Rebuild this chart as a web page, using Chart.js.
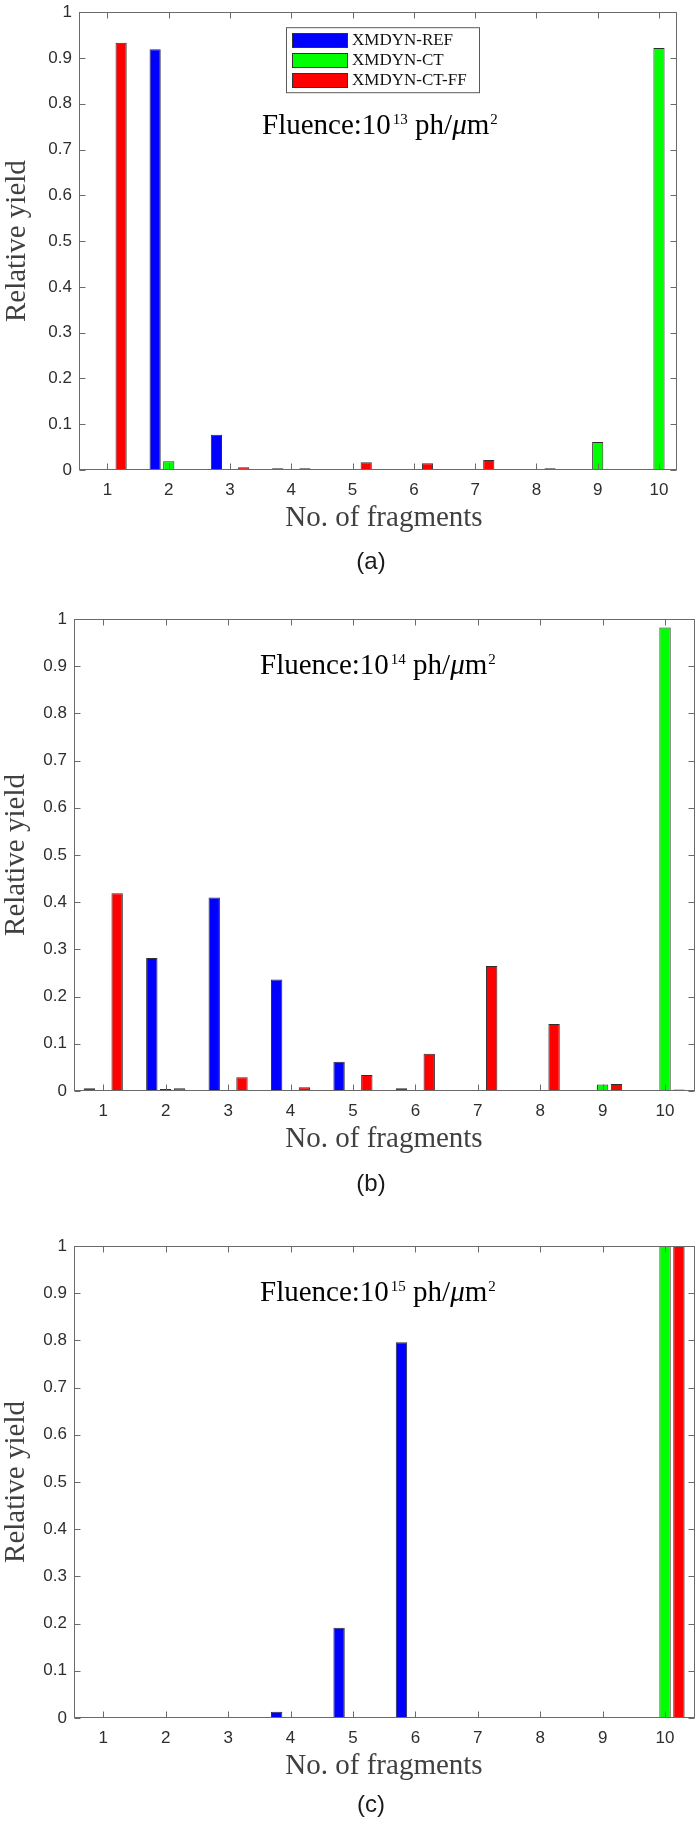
<!DOCTYPE html>
<html>
<head>
<meta charset="utf-8">
<script src="https://cdn.jsdelivr.net/npm/chart.js@4.4.1/dist/chart.umd.min.js"></script>
<style>
  html, body { margin: 0; padding: 0; background: #ffffff; }
  #page { position: relative; width: 696px; height: 1821px; overflow: hidden; background: #ffffff; }
  .panel { position: absolute; left: 0; width: 696px; }
  canvas { display: block; }
</style>
</head>
<body>
<div id="page">
  <div class="panel" id="pa"><canvas id="ca"></canvas></div>
  <div class="panel" id="pb"><canvas id="cb"></canvas></div>
  <div class="panel" id="pc"><canvas id="cc"></canvas></div>
</div>
<script>
// ---------------- data ----------------
const categories = [1, 2, 3, 4, 5, 6, 7, 8, 9, 10];
const xTickLabels = ['1', '2', '3', '4', '5', '6', '7', '8', '9', '10'];
const yTickValues = [0, 0.1, 0.2, 0.3, 0.4, 0.5, 0.6, 0.7, 0.8, 0.9, 1];
const yTickLabels = ['0', '0.1', '0.2', '0.3', '0.4', '0.5', '0.6', '0.7', '0.8', '0.9', '1'];
const seriesNames = ['XMDYN-REF', 'XMDYN-CT', 'XMDYN-CT-FF'];

// (a) fluence 10^13
const refA = [0.002, 0.919, 0.077, 0.004, 0, 0, 0, 0, 0, 0];
const ctA  = [0, 0.019, 0, 0, 0, 0, 0, 0, 0.061, 0.922];
const ffA  = [0.933, 0.002, 0.006, 0.004, 0.017, 0.015, 0.022, 0.004, 0, 0];
// (b) fluence 10^14
const refB = [0.006, 0.282, 0.410, 0.236, 0.062, 0.006, 0, 0, 0, 0];
const ctB  = [0, 0.004, 0, 0, 0, 0, 0, 0, 0.014, 0.982];
const ffB  = [0.419, 0.006, 0.029, 0.008, 0.034, 0.079, 0.265, 0.142, 0.015, 0.003];
// (c) fluence 10^15
const refC = [0, 0, 0, 0.013, 0.191, 0.796, 0, 0, 0, 0];
const ctC  = [0, 0, 0, 0, 0, 0, 0, 0, 0, 1.0];
const ffC  = [0, 0, 0, 0, 0, 0, 0, 0, 0.002, 1.0];

const fluenceExponents = ['13', '14', '15'];
const panelLetters = ['(a)', '(b)', '(c)'];
const xTitle = 'No. of fragments';
const yTitle = 'Relative yield';

// ---------------- styles / layout ----------------
const seriesColors = ['#0000ff', '#00ff00', '#ff0000'];
const panelSeries = [[refA, ctA, ffA], [refB, ctB, ffB], [refC, ctC, ffC]];

const panelLayout = [
  { canvas: 'ca', holder: 'pa', top: -5,   height: 585, L: 79, R: 677, T: 7,    B: 470,  xmin: 0.535, xmax: 10.294, fluX: 262, fluDy: 121.5, legend: true,  letterDy: 92, yTitleX: 25 },
  { canvas: 'cb', holder: 'pb', top: 582,  height: 620, L: 74, R: 695, T: 619,  B: 1091, xmin: 0.531, xmax: 10.48,  fluX: 260, fluDy: 55,    legend: false, letterDy: 93, yTitleX: 24 },
  { canvas: 'cc', holder: 'pc', top: 1210, height: 611, L: 74, R: 695, T: 1246, B: 1718, xmin: 0.531, xmax: 10.48,  fluX: 260, fluDy: 55,    legend: false, letterDy: 87, yTitleX: 24 }
];

const AXIS_COLOR = '#6a6a6a';
const TICK_TEXT = '#2e2e2e';
const TITLE_TEXT = '#404040';

function decoPlugin(cfg, idx) {
  return {
    id: 'deco' + idx,
    afterDatasetsDraw(chart) {
      const ctx = chart.ctx;
      const a = chart.chartArea;
      const xs = chart.scales.x, ys = chart.scales.y;
      ctx.save();
      // axes box
      ctx.strokeStyle = AXIS_COLOR;
      ctx.lineWidth = 1;
      const l = Math.round(a.left) + 0.5, r = Math.round(a.right) - 0.5;
      const t = Math.round(a.top) + 0.5, b = Math.round(a.bottom) - 0.5;
      ctx.strokeRect(l, t, r - l, b - t);
      // inward tick marks on all four sides
      ctx.beginPath();
      xs.ticks.forEach(tk => {
        const px = Math.round(xs.getPixelForValue(tk.value)) + 0.5;
        ctx.moveTo(px, b); ctx.lineTo(px, b - 6);
        ctx.moveTo(px, t); ctx.lineTo(px, t + 6);
      });
      ys.ticks.forEach(tk => {
        const py = Math.round(ys.getPixelForValue(tk.value)) + 0.5;
        ctx.moveTo(l, py); ctx.lineTo(l + 6, py);
        ctx.moveTo(r, py); ctx.lineTo(r - 6, py);
      });
      ctx.stroke();

      // legend (panel a only)
      if (cfg.legend) {
        const bx = 286.5, by = a.top + 15.5, bw = 193, bh = 65;
        ctx.fillStyle = '#ffffff';
        ctx.fillRect(bx, by, bw, bh);
        ctx.strokeStyle = '#5a5a5a';
        ctx.strokeRect(bx, by, bw, bh);
        const rows = [27.3, 47.7, 68.2];
        chart.data.datasets.forEach((ds, i) => {
          const cy = a.top + rows[i];
          ctx.fillStyle = ds.backgroundColor;
          ctx.fillRect(292.5, Math.round(cy - 7) + 0.5, 55, 14);
          ctx.strokeStyle = '#333333';
          ctx.strokeRect(292.5, Math.round(cy - 7) + 0.5, 55, 14);
          ctx.fillStyle = '#111111';
          ctx.font = '17px "Liberation Serif"';
          ctx.textAlign = 'left';
          ctx.textBaseline = 'alphabetic';
          ctx.fillText(ds.label, 352, cy + 5);
        });
      }

      // fluence annotation
      ctx.fillStyle = '#000000';
      ctx.textAlign = 'left';
      ctx.textBaseline = 'alphabetic';
      const base = a.top + cfg.fluDy;
      let xx = cfg.fluX;
      const part = (txt, font, dy) => {
        ctx.font = font;
        ctx.fillText(txt, xx, base + dy);
        xx += ctx.measureText(txt).width;
      };
      const mainF = '29px "Liberation Serif"';
      const supF = '15px "Liberation Serif"';
      part('Fluence:10', mainF, 0);
      xx += 2;
      part(fluenceExponents[idx], supF, -10);
      part(' ph/', mainF, 0);
      part('\u03bc', 'italic 29px "Liberation Serif"', 0);
      part('m', mainF, 0);
      xx += 1;
      part('2', supF, -10);

      // x axis title
      ctx.fillStyle = TITLE_TEXT;
      ctx.font = '29px "Liberation Serif"';
      ctx.textAlign = 'center';
      ctx.fillText(xTitle, 384, a.bottom + 56);

      // y axis title
      ctx.save();
      ctx.translate(cfg.yTitleX, (a.top + a.bottom) / 2);
      ctx.rotate(-Math.PI / 2);
      ctx.textAlign = 'center';
      ctx.textBaseline = 'alphabetic';
      ctx.fillText(yTitle, 0, 0);
      ctx.restore();

      // panel letter
      ctx.fillStyle = '#1a1a1a';
      ctx.font = '24px "Liberation Sans"';
      ctx.textAlign = 'center';
      ctx.textBaseline = 'middle';
      ctx.fillText(panelLetters[idx], 371, a.bottom + cfg.letterDy);
      ctx.restore();
    }
  };
}

panelLayout.forEach((cfg, idx) => {
  const holder = document.getElementById(cfg.holder);
  holder.style.top = cfg.top + 'px';
  holder.style.height = cfg.height + 'px';
  const canvas = document.getElementById(cfg.canvas);
  canvas.width = 696; canvas.height = cfg.height;
  canvas.style.width = '696px'; canvas.style.height = cfg.height + 'px';

  const series = panelSeries[idx];
  const datasets = seriesNames.map((name, i) => ({
    label: name,
    data: categories.map((c, k) => ({ x: c, y: series[i][k] })),
    backgroundColor: seriesColors[i],
    borderColor: '#2e2e2e',
    borderWidth: 1,
    borderSkipped: 'start',
    categoryPercentage: 0.667,
    barPercentage: 0.82,
    grouped: true
  }));

  const plotTopInCanvas = cfg.T - cfg.top;
  const xAxisHeight = cfg.height - (cfg.B - cfg.top);

  new Chart(canvas, {
    type: 'bar',
    data: { datasets },
    options: {
      responsive: false,
      maintainAspectRatio: false,
      devicePixelRatio: 1,
      animation: false,
      events: [],
      layout: { padding: { left: 0, right: 696 - cfg.R, top: plotTopInCanvas, bottom: 0 } },
      plugins: { legend: { display: false }, tooltip: { enabled: false }, title: { display: false } },
      scales: {
        x: {
          type: 'linear',
          min: cfg.xmin, max: cfg.xmax,
          offset: false,
          grid: { display: false, drawTicks: false, offset: false },
          border: { display: false },
          afterBuildTicks: s => { s.ticks = categories.map(v => ({ value: v })); },
          afterFit: s => { s.height = xAxisHeight; },
          ticks: {
            autoSkip: false, maxRotation: 0, minRotation: 0,
            padding: 10,
            color: TICK_TEXT,
            font: { family: 'Liberation Sans', size: 17 },
            callback: (v) => xTickLabels[categories.indexOf(v)]
          }
        },
        y: {
          min: 0, max: 1,
          grid: { display: false, drawTicks: false },
          border: { display: false },
          afterBuildTicks: s => { s.ticks = yTickValues.map(v => ({ value: v })); },
          afterFit: s => { s.width = cfg.L; },
          ticks: {
            padding: 7,
            color: TICK_TEXT,
            font: { family: 'Liberation Sans', size: 17 },
            callback: (v) => yTickLabels[yTickValues.indexOf(v)]
          }
        }
      }
    },
    plugins: [decoPlugin(cfg, idx)]
  });
});
</script>
</body>
</html>
